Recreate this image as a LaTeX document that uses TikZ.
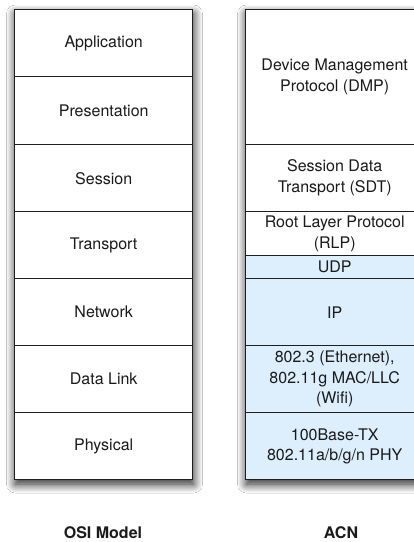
\documentclass[tikz,border=0pt]{standalone}
\usepackage{fontspec}
\setmainfont{TeX Gyre Heros}
\usetikzlibrary{shadows.blur}
\definecolor{edge}{HTML}{1E1E1E}
\definecolor{ink}{HTML}{1A1A1A}
\definecolor{netblue}{HTML}{DDEEFD}
\tikzset{
  x=1pt, y=-1pt,
  cell/.style={draw=edge, line width=1.4pt, minimum width=178pt, inner sep=0pt,
    align=center, text=ink, font=\fontsize{16}{20.5}\selectfont, anchor=north west},
  bluecell/.style={cell, fill=netblue},
  column/.style={fill=white, blur shadow={shadow xshift=1.5pt, shadow yshift=-5pt,
    shadow blur radius=9pt, shadow blur steps=16, shadow opacity=90}},
  caption/.style={text=ink, font=\fontsize{16}{20.5}\selectfont\bfseries}
}
\begin{document}
\begin{tikzpicture}
\clip (0,0) rectangle (414,542);
\fill[white] (0,0) rectangle (414,542);

% column backdrops carrying the drop shadows
\path[column] (14,9) rectangle (192,479);
\path[column] (245,9) rectangle (423,479);

% OSI reference model
\node[cell, minimum height=67pt] (app)  at (14,9)   {Application};
\node[cell, minimum height=68pt] (pres) at (14,76)  {Presentation};
\node[cell, minimum height=67pt] (sess) at (14,144) {Session};
\node[cell, minimum height=67pt] (trans) at (14,211) {Transport};
\node[cell, minimum height=67pt] (net)  at (14,278) {Network};
\node[cell, minimum height=67pt] (link) at (14,345) {Data Link};
\node[cell, minimum height=67pt] (phys) at (14,412) {Physical};

% ACN protocol stack
\node[cell, minimum height=134.5pt] (dmp) at (245,9) {Device Management\\Protocol (DMP)};
\node[cell, minimum height=67.5pt] (sdt) at (245,143.5) {Session Data\\Transport (SDT)};
\node[cell, minimum height=44pt] (rlp) at (245,211) {Root Layer Protocol\\(RLP)};
\node[bluecell, minimum height=23pt] (udp) at (245,255) {UDP};
\node[bluecell, minimum height=67pt] (ip) at (245,278) {IP};
\node[bluecell, minimum height=67pt] (mac) at (245,345) {802.3 (Ethernet),\\802.11g MAC/LLC\\(Wifi)};
\node[bluecell, minimum height=67pt] (phy) at (245,412) {100Base-TX\\802.11a/b/g/n PHY};

% captions
\node[caption] (osi) at (103,533) {OSI Model};
\node[caption] (acn) at (341,533) {ACN};
\end{tikzpicture}
\end{document}
